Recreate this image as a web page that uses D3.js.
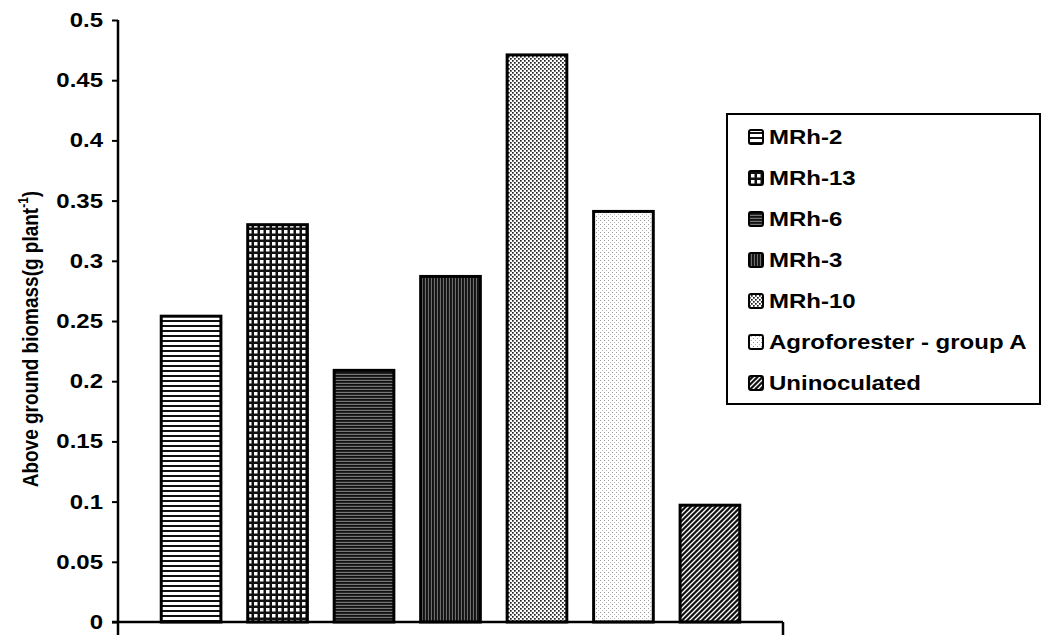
<!DOCTYPE html>
<html>
<head>
<meta charset="utf-8">
<script src="https://cdn.jsdelivr.net/npm/d3@7"></script>
<style>
  html, body { margin: 0; padding: 0; background: #fff; }
  svg { display: block; }
  text { font-family: Arial, "Liberation Sans", sans-serif; font-weight: bold; fill: #000; }
</style>
</head>
<body>
<svg id="chart" width="1045" height="635"></svg>
<script>
// ---- data ----
const series = ["MRh-2", "MRh-13", "MRh-6", "MRh-3", "MRh-10", "Agroforester - group A", "Uninoculated"];
const values = [0.254, 0.330, 0.209, 0.287, 0.471, 0.341, 0.097];
const yTicks = [0, 0.05, 0.1, 0.15, 0.2, 0.25, 0.3, 0.35, 0.4, 0.45, 0.5];
const yTickLabels = ["0", "0.05", "0.1", "0.15", "0.2", "0.25", "0.3", "0.35", "0.4", "0.45", "0.5"];
const yTitle = "Above ground biomass(g plant";
const patternIds = ["p-hlines", "p-grid", "p-dense-h", "p-vlines", "p-dots", "p-light", "p-diag"];

const svg = d3.select("#chart");
const plotLeft = 118, plotRight = 783, plotBottom = 622, plotTop = 20;
const SX = 1.2; // horizontal stretch of the scanned lettering

// ---- patterns ----
const defs = svg.append("defs");
function pat(id, w, h, build) {
  const p = defs.append("pattern").attr("id", id).attr("patternUnits", "userSpaceOnUse")
    .attr("width", w).attr("height", h);
  build(p);
}
pat("p-hlines", 5, 5, p => {
  p.append("rect").attr("width", 5).attr("height", 5).attr("fill", "#fff");
  p.append("rect").attr("y", 0).attr("width", 5).attr("height", 2).attr("fill", "#111");
});
pat("p-grid", 6, 6, p => {
  p.append("rect").attr("width", 6).attr("height", 6).attr("fill", "#111");
  p.append("rect").attr("x", 2).attr("y", 2).attr("width", 3.5).attr("height", 3.5).attr("fill", "#fff");
});
pat("p-dense-h", 3, 3, p => {
  p.append("rect").attr("width", 3).attr("height", 3).attr("fill", "#777");
  p.append("rect").attr("width", 3).attr("height", 1.8).attr("fill", "#111");
});
pat("p-vlines", 3, 3, p => {
  p.append("rect").attr("width", 3).attr("height", 3).attr("fill", "#6e6e6e");
  p.append("rect").attr("width", 1.9).attr("height", 3).attr("fill", "#111");
});
pat("p-dots", 4, 4, p => {
  p.append("rect").attr("width", 4).attr("height", 4).attr("fill", "#fff");
  p.append("rect").attr("x", 0).attr("y", 0).attr("width", 1.7).attr("height", 1.7).attr("fill", "#222");
  p.append("rect").attr("x", 2).attr("y", 2).attr("width", 1.7).attr("height", 1.7).attr("fill", "#222");
});
pat("p-light", 4, 4, p => {
  p.append("rect").attr("width", 4).attr("height", 4).attr("fill", "#fff");
  p.append("rect").attr("x", 0).attr("y", 0).attr("width", 1).attr("height", 1).attr("fill", "#999");
  p.append("rect").attr("x", 2).attr("y", 2).attr("width", 1).attr("height", 1).attr("fill", "#bbb");
});
pat("p-diag", 5, 5, p => {
  p.append("rect").attr("width", 5).attr("height", 5).attr("fill", "#111");
  p.append("path").attr("d", "M0,5 L5,0 M-1,1 L1,-1 M4,6 L6,4").attr("stroke", "#fff").attr("stroke-width", 1.3);
});

// ---- scales ----
const x = d3.scaleBand().domain(series).range([plotLeft, plotRight]).paddingInner(0.31).paddingOuter(0.5);
const y = d3.scaleLinear().domain([0, 0.5]).range([plotBottom, plotTop]);

// ---- bars ----
svg.append("g").selectAll("rect").data(series).join("rect")
  .attr("x", d => x(d))
  .attr("y", (d, i) => y(values[i]))
  .attr("width", x.bandwidth())
  .attr("height", (d, i) => y(0) - y(values[i]))
  .attr("fill", (d, i) => `url(#${patternIds[i]})`)
  .attr("stroke", "#000").attr("stroke-width", 3);

// ---- y axis ----
const yAxis = d3.axisLeft(y).tickValues(yTicks).tickSize(6).tickPadding(9)
  .tickFormat((d, i) => yTickLabels[i]);
const gy = svg.append("g").attr("transform", `translate(${plotLeft},0)`).call(yAxis);
gy.select(".domain").remove();
gy.selectAll(".tick line").attr("stroke", "#000").attr("stroke-width", 2);
gy.selectAll(".tick text").attr("font-size", 20).attr("fill", "#000")
  .attr("font-family", "Arial, 'Liberation Sans', sans-serif")
  .attr("font-weight", "bold")
  .attr("transform", function() {
    const xx = +d3.select(this).attr("x");
    return `translate(${xx},0) scale(${SX},1) translate(${-xx},0)`;
  });
// axis lines
svg.append("line").attr("x1", plotLeft).attr("x2", plotLeft).attr("y1", plotTop).attr("y2", 635)
  .attr("stroke", "#000").attr("stroke-width", 2.5);
svg.append("line").attr("x1", plotLeft - 6).attr("x2", plotRight).attr("y1", plotBottom).attr("y2", plotBottom)
  .attr("stroke", "#000").attr("stroke-width", 2.5);
svg.append("line").attr("x1", plotRight).attr("x2", plotRight).attr("y1", plotBottom).attr("y2", 635)
  .attr("stroke", "#000").attr("stroke-width", 2.5);

// ---- y title ----
const t = svg.append("text")
  .attr("transform", `translate(38,${y(0.235)}) rotate(-90) scale(1,${SX})`)
  .attr("text-anchor", "middle").attr("font-size", 19);
t.append("tspan").text(yTitle);
t.append("tspan").attr("dy", -8).attr("font-size", 12).text("-1");
t.append("tspan").attr("dy", 8).text(")");

// ---- legend ----
const lg = svg.append("g");
lg.append("rect").attr("x", 727).attr("y", 114).attr("width", 313).attr("height", 290)
  .attr("fill", "#fff").attr("stroke", "#000").attr("stroke-width", 2);
const items = lg.selectAll("g.item").data(series).join("g").attr("class", "item")
  .attr("transform", (d, i) => `translate(749,${137 + i * 41})`);
items.append("rect").attr("x", 0).attr("y", -7).attr("width", 14).attr("height", 14)
  .attr("rx", 2).attr("fill", (d, i) => `url(#${patternIds[i]})`)
  .attr("stroke", "#000").attr("stroke-width", 2);
items.append("text").attr("x", 0).attr("y", 7)
  .attr("font-size", 20)
  .attr("transform", `translate(20,0) scale(${SX},1)`)
  .text(d => d);
</script>
</body>
</html>
